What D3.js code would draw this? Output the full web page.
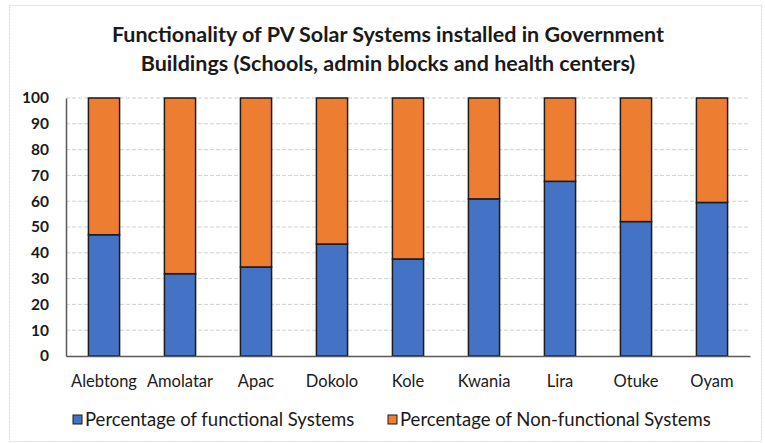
<!DOCTYPE html>
<html>
<head>
<meta charset="utf-8">
<script src="https://cdn.jsdelivr.net/npm/d3@7"></script>
<style>
  body { margin: 0; background: #fff; }
  text { font-family: Lato, "Open Sans", sans-serif; fill: #1a1a1a; }
</style>
</head>
<body>
<div id="chart"></div>
<script>
// data
var districts = ["Alebtong", "Amolatar", "Apac", "Dokolo", "Kole", "Kwania", "Lira", "Otuke", "Oyam"];
var functional = [47.0, 31.9, 34.5, 43.4, 37.6, 60.9, 67.7, 52.1, 59.5];
var nonFunctional = functional.map(function(v) { return 100 - v; });
var seriesNames = ["Percentage of functional Systems", "Percentage of Non-functional Systems"];
var seriesColors = ["#4472C4", "#ED7D31"];
var yTicks = [0, 10, 20, 30, 40, 50, 60, 70, 80, 90, 100];

var W = 765, H = 443;
var margin = {top: 98, right: 16, bottom: 87, left: 66},
    width = 750 - margin.left,
    height = 356 - margin.top;

var root = d3.select("#chart").append("svg")
    .attr("width", W)
    .attr("height", H);

// outer chart border
root.append("rect")
    .attr("x", 9.5).attr("y", 5.5)
    .attr("width", 752).attr("height", 436)
    .attr("fill", "none")
    .attr("stroke", "#d9d9d9")
    .attr("stroke-dasharray", "2,1");

var title = root.append("text")
    .attr("text-anchor", "middle")
    .style("font-weight", "bold")
    .style("font-size", "21.5px");
title.append("tspan").attr("x", 388).attr("y", 42)
    .text("Functionality of PV Solar Systems installed in Government");
title.append("tspan").attr("x", 388).attr("y", 71)
    .text("Buildings (Schools, admin blocks and health centers)");

var svg = root.append("g")
    .attr("transform", "translate(" + margin.left + "," + margin.top + ")");

var x = d3.scaleBand()
    .domain(districts)
    .range([0, width])
    .paddingInner(0.59)
    .paddingOuter(0.295);

var y = d3.scaleLinear()
    .domain([0, 100])
    .range([height, 0]);

// gridlines
svg.append("g")
  .selectAll("line")
  .data(yTicks.filter(function(t) { return t > 0; }))
  .enter().append("line")
    .attr("x1", 0).attr("x2", width)
    .attr("y1", function(d) { return y(d); })
    .attr("y2", function(d) { return y(d); })
    .attr("stroke", "#d0d0d0")
    .attr("stroke-dasharray", "4,2");

// y axis
var yAxis = svg.append("g")
    .call(d3.axisLeft(y).tickValues(yTicks).tickSize(0).tickPadding(17));
yAxis.select(".domain").attr("stroke", "#595959").attr("stroke-width", 1.5);
yAxis.selectAll("text")
    .style("font-size", "15.5px")
    .style("font-weight", "bold")
    .style("font-family", "Lato, sans-serif")
    .attr("fill", "#1a1a1a");

// stacked bars
var stackData = districts.map(function(d, i) {
  return {district: d, f: functional[i], n: nonFunctional[i]};
});
var stack = d3.stack().keys(["f", "n"])(stackData);

svg.selectAll("g.series")
  .data(stack)
  .enter().append("g")
    .attr("class", "series")
    .attr("fill", function(d, i) { return seriesColors[i]; })
  .selectAll("rect")
  .data(function(d) { return d; })
  .enter().append("rect")
    .attr("x", function(d) { return x(d.data.district); })
    .attr("width", x.bandwidth())
    .attr("y", function(d) { return y(d[1]); })
    .attr("height", function(d) { return y(d[0]) - y(d[1]); })
    .attr("stroke", "#1b1b1b")
    .attr("stroke-width", 1.5);

// x axis
var xAxis = svg.append("g")
    .attr("transform", "translate(0," + height + ")")
    .call(d3.axisBottom(x).tickSize(0).tickPadding(19));
xAxis.select(".domain").attr("stroke", "#595959").attr("stroke-width", 1.5);
xAxis.selectAll("text")
    .style("font-size", "16.5px")
    .style("font-family", "Lato, sans-serif")
    .attr("fill", "#1a1a1a");

// legend
var legendX = [73, 388];
var legend = root.append("g")
  .selectAll("g")
  .data(seriesNames)
  .enter().append("g")
    .attr("transform", function(d, i) { return "translate(" + legendX[i] + ",415)"; });
legend.append("rect")
    .attr("width", 9).attr("height", 9)
    .attr("fill", function(d, i) { return seriesColors[i]; })
    .attr("stroke", "#1b1b1b");
legend.append("text")
    .attr("x", 12).attr("y", 10.5)
    .style("font-size", "18.5px")
    .text(function(d) { return d; });
</script>
</body>
</html>
